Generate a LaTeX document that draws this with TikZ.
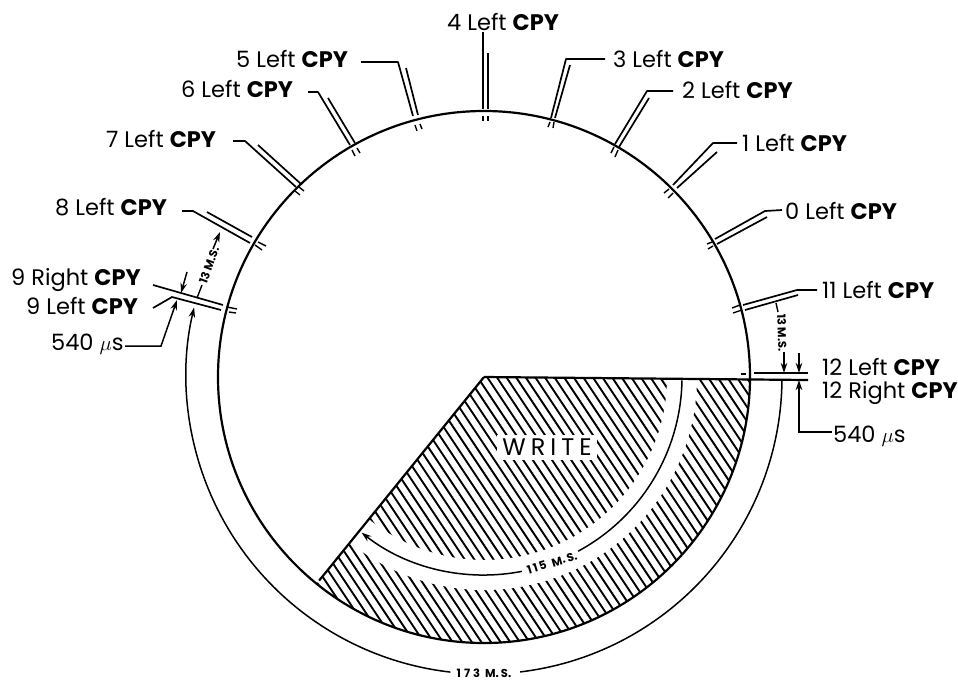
\documentclass[tikz,border=0pt]{standalone}
\usepackage{fontspec}
\setmainfont{Poppins}
\usetikzlibrary{arrows.meta,calc}
\newcommand{\cpy}{\textbf{CPY}}
\tikzset{
  lbl/.style={anchor=west,inner sep=0pt,font=\fontsize{22.5}{24}\selectfont},
  tiny/.style={inner sep=0pt,font=\bfseries\fontsize{11.5}{13}\selectfont},
  lead/.style={line width=1.7pt,line join=round},
  tick/.style={line width=1.4pt},
  rim/.style={line width=2.2pt},
  thinarc/.style={line width=1.5pt},
  arr/.style={line width=1.5pt,-{Stealth[length=10pt,width=6.5pt]}},
  hatch/.style={line width=1.9pt}
}
% \slot: bent leader (3 points), second leader (2 points), two ticks
\newcommand{\slot}[6]{%
  \draw[lead] #1 -- #2 -- #3;
  \draw[lead] #4;
  \draw[tick] #5;
  \draw[tick] #6;}
\begin{document}
\begin{tikzpicture}[x=1pt,y=-1pt]
\useasboundingbox (0,0) rectangle (958,681);
\coordinate (O) at (484,377);
% hatching, clipped to the wedge
\begin{scope}
  \clip (O) -- ($(O)+(0.7:266)$) arc[start angle=0.7,end angle=129,radius=266] -- cycle;
  \foreach \k in {-30,...,50}{
    \draw[hatch] ($(300,370)+(\k*9.6,0)$) -- ++(200,300);
  }
  \fill[white] ($(O)+(-5:183)$) arc[start angle=-5,end angle=140,radius=183]
     -- ($(O)+(140:213)$) arc[start angle=140,end angle=-5,radius=213] -- cycle;
  \fill[white] (497,435) rectangle (597,460);
\end{scope}
% circle and wedge
\draw[rim] (O) circle[radius=266];
\draw[rim] (O) -- (808,380);
\draw[rim] (O) -- ($(O)+(129:262)$);
% arcs
\draw[thinarc] ($(O)+(1:198)$) arc[start angle=1,end angle=61.6,radius=198];
\draw[arr] ($(O)+(79:198)$) arc[start angle=79,end angle=128.2,radius=198];
\draw[thinarc] ($(O)+(0.6:298)$) arc[start angle=0.6,end angle=83.2,radius=297];
\draw[arr] ($(O)+(96.5:297)$) arc[start angle=96.5,end angle=193.3,radius=298];
% slots
\slot{(483,32)}{(483,70)}{(483,109)}{(488,53) -- (488,109)}{(483,116) -- (483,121)}{(488,116) -- (488,121)}
\slot{(361,62)}{(398,62)}{(413,116)}{(406,68) -- (418,115)}{(415,125) -- (417,131)}{(420,124) -- (422,129)}
\slot{(308,92)}{(318,92)}{(350,145)}{(328,98) -- (355,143)}{(352,150) -- (355,156)}{(357,148) -- (360,153)}
\slot{(233,141)}{(245,141)}{(296,187)}{(258,145) -- (301,184)}{(295,191) -- (300,195)}{(299,187) -- (304,191)}
\slot{(182,211)}{(193,211)}{(250,243)}{(207,212) -- (252,237)}{(255,245) -- (262,250)}{(258,242) -- (266,246)}
\slot{(153,308)}{(172,297)}{(221,310)}{(153,285) -- (223,305)}{(227,307) -- (237,309)}{(229,312) -- (236,313)}
\slot{(605,59)}{(566,59)}{(551,118)}{(570,65) -- (555,118)}{(548,127) -- (550,122)}{(553,128) -- (554,122)}
\slot{(673,91)}{(647,91)}{(615,144)}{(649,98) -- (619,147)}{(611,153) -- (614,147)}{(615,157) -- (618,150)}
\slot{(737,143)}{(713,143)}{(673,185)}{(717,152) -- (677,188)}{(664,193) -- (669,189)}{(668,198) -- (673,193)}
\slot{(782,210)}{(765,211)}{(715,239)}{(767,217) -- (717,244)}{(707,244) -- (712,242)}{(708,249) -- (713,246)}
\slot{(817,290)}{(797,290)}{(743,305)}{(798,295) -- (745,310)}{(732,308) -- (740,305)}{(733,313) -- (742,310)}
% slot 12
\draw[lead] (754,373) -- (808,373);
\draw[tick] (741,374) -- (746,374);
% dimension arrows, left
\draw[arr] (213,249) -- (220,232);
\draw[line width=1.4pt] (202,285) -- (197,298);
\draw[arr] (187,272) -- (181,293);
\draw[arr] (125,346) -- (161,346) -- (177,300);
% dimension arrows, right
\draw[line width=1.4pt] (776,303) -- (778,312);
\draw[arr] (784,352) -- (784,373);
\draw[arr] (799,353) -- (799,373);
\draw[arr] (832,432) -- (799,432) -- (799,380);
% small labels
\node[tiny,rotate=70] (d13l) at (209,265) {13 M.S.};
\node[tiny,rotate=-88] (d13r) at (782,333) {13 M.S.};
\node[tiny,rotate=17] (d115) at (552,563) {1\,1\,5\; M.\,S.};
\node[tiny] (d173) at (484,673) {1\kern3pt 7\kern3pt 3\kern5pt M.\kern2pt S.};
\node[inner sep=0pt,font=\fontsize{24}{26}\selectfont] (wr) at (547,447) {W\kern5pt R\kern5pt I\kern5pt T\kern5pt E};
% labels
\node[lbl] (l4) at (447,22) {4 Left \cpy};
\node[lbl] (l5) at (236,59) {5 Left \cpy};
\node[lbl] (l6) at (181,89) {6 Left \cpy};
\node[lbl] (l7) at (106,139) {7 Left \cpy};
\node[lbl] (l8) at (55,207) {8 Left \cpy};
\node[lbl] (l9r) at (11,280) {9 Right \cpy};
\node[lbl] (l9l) at (26,306) {9 Left \cpy};
\node[lbl] (m1) at (51,344) {540 $\mu$s};
\node[lbl] (l3) at (613,59) {3 Left \cpy};
\node[lbl] (l2) at (682,90) {2 Left \cpy};
\node[lbl] (l1) at (742,143) {1 Left \cpy};
\node[lbl] (l0) at (785,211) {0 Left \cpy};
\node[lbl] (l11) at (822,290) {11 Left \cpy};
\node[lbl] (l12l) at (822,367) {12 Left \cpy};
\node[lbl] (l12r) at (822,393) {12 Right \cpy};
\node[lbl] (m2) at (833,436) {540 $\mu$s};
\end{tikzpicture}
\end{document}
